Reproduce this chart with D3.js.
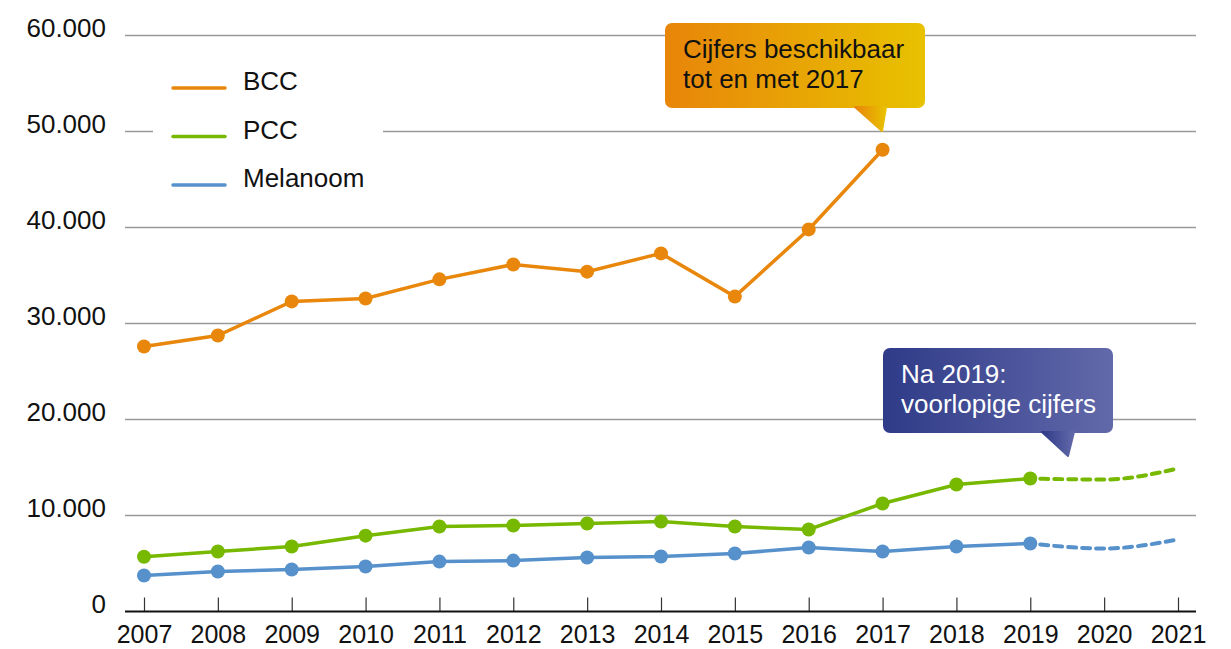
<!DOCTYPE html>
<html>
<head>
<meta charset="utf-8">
<script src="https://cdn.jsdelivr.net/npm/d3@7"></script>
<style>
  body { margin: 0; background: #fff; }
  svg { font-family: "Liberation Sans", Arial, sans-serif; }
</style>
</head>
<body>
<div id="chart"></div>
<script>
// Data
let years = [2007, 2008, 2009, 2010, 2011, 2012, 2013, 2014, 2015, 2016, 2017, 2018, 2019, 2020, 2021];
let bcc = [27600, 28750, 32300, 32600, 34600, 36150, 35400, 37300, 32800, 39800, 48100];
let pcc = [5700, 6250, 6770, 7900, 8850, 8960, 9170, 9375, 8850, 8540, 11250, 13230, 13850];
let pccForecast = [13850, 13750, 14900];
let mel = [3750, 4170, 4375, 4690, 5200, 5300, 5625, 5730, 6040, 6670, 6250, 6770, 7080];
let melForecast = [7080, 6560, 7500];
let yTicks = [0, 10000, 20000, 30000, 40000, 50000, 60000];
let legendNames = ["BCC", "PCC", "Melanoom"];

let w = 1231;
let h = 649;

let colors = {bcc: "#e8870b", pcc: "#77b800", mel: "#5691cb"};

let svg = d3.select("#chart")
    .append("svg")
    .attr("width", w)
    .attr("height", h);

let x = d3.scaleLinear().domain([2007, 2021]).range([144, 1178]);
let y = d3.scaleLinear().domain([0, 60000]).range([611.5, 35.5]);

let defs = svg.append("defs");
let g1 = defs.append("linearGradient").attr("id", "grad-orange")
    .attr("x1", "0%").attr("y1", "0%").attr("x2", "100%").attr("y2", "0%");
g1.append("stop").attr("offset", "0%").attr("stop-color", "#e8850a");
g1.append("stop").attr("offset", "100%").attr("stop-color", "#e8c200");
let g2 = defs.append("linearGradient").attr("id", "grad-blue")
    .attr("x1", "0%").attr("y1", "0%").attr("x2", "100%").attr("y2", "0%");
g2.append("stop").attr("offset", "0%").attr("stop-color", "#2f3b88");
g2.append("stop").attr("offset", "100%").attr("stop-color", "#6269aa");

// gridlines
svg.append("g")
    .selectAll("line")
    .data(yTicks.filter(d => d > 0))
    .join("line")
    .attr("x1", 125)
    .attr("x2", 1196)
    .attr("y1", d => y(d))
    .attr("y2", d => y(d))
    .attr("stroke", "#999")
    .attr("stroke-width", 1.5);

// y labels
svg.append("g")
    .selectAll("text")
    .data(yTicks)
    .join("text")
    .attr("x", 106)
    .attr("y", d => y(d) + 1.5)
    .attr("text-anchor", "end")
    .attr("font-size", 26)
    .attr("fill", "#111")
    .text(d => d3.format(",")(d).replace(/,/g, "."));

// x axis
let xAxis = d3.axisBottom(x)
    .tickValues(years)
    .tickFormat(d3.format("d"))
    .tickSize(-14)
    .tickPadding(14);

let ax = svg.append("g")
    .attr("transform", "translate(0," + y(0) + ")")
    .call(xAxis);
ax.select(".domain").remove();
ax.selectAll(".tick line").attr("stroke", "#333").attr("stroke-width", 1.2);
ax.selectAll(".tick text")
    .attr("font-size", 25)
    .attr("font-family", "Liberation Sans, Arial, sans-serif")
    .attr("fill", "#111");
svg.append("line")
    .attr("x1", 125).attr("x2", 1196)
    .attr("y1", y(0)).attr("y2", y(0))
    .attr("stroke", "#111")
    .attr("stroke-width", 2);

// legend
let legend = svg.append("g");
legend.append("rect")
    .attr("x", 153).attr("y", 60)
    .attr("width", 230).attr("height", 140)
    .attr("fill", "#fff");
let legendColors = [colors.bcc, colors.pcc, colors.mel];
legendNames.forEach((n, i) => {
    let ly = 88 + i * 48.5;
    legend.append("line")
        .attr("x1", 173).attr("x2", 225)
        .attr("y1", ly).attr("y2", ly)
        .attr("stroke", legendColors[i])
        .attr("stroke-width", 3.5)
        .attr("stroke-linecap", "round");
    legend.append("text")
        .attr("x", 243).attr("y", ly + 2)
        .attr("font-size", 26)
        .attr("fill", "#111")
        .text(n);
});

// series
let line = d3.line().x(d => x(d[0])).y(d => y(d[1]));
let curved = d3.line().x(d => x(d[0])).y(d => y(d[1])).curve(d3.curveMonotoneX);

function drawSeries(vals, color) {
    let pts = vals.map((v, i) => [years[i], v]);
    svg.append("path")
        .datum(pts)
        .attr("d", line)
        .attr("fill", "none")
        .attr("stroke", color)
        .attr("stroke-width", 3.5);
    svg.append("g")
        .selectAll("circle")
        .data(pts)
        .join("circle")
        .attr("cx", d => x(d[0]))
        .attr("cy", d => y(d[1]))
        .attr("r", 7)
        .attr("fill", color);
}

function drawForecast(vals, color) {
    let pts = vals.map((v, i) => [2019 + i, v]);
    svg.append("path")
        .datum(pts)
        .attr("d", curved)
        .attr("fill", "none")
        .attr("stroke", color)
        .attr("stroke-width", 4)
        .attr("stroke-dasharray", "8,6")
        .attr("stroke-linecap", "round")
        .attr("stroke-dashoffset", -10);
}

drawForecast(melForecast, colors.mel);
drawForecast(pccForecast, colors.pcc);
drawSeries(mel, colors.mel);
drawSeries(pcc, colors.pcc);
drawSeries(bcc, colors.bcc);

// callouts
function callout(bx, by, bw, bh, tail, fill, lines, textColor) {
    let g = svg.append("g");
    g.append("rect")
        .attr("x", bx).attr("y", by)
        .attr("width", bw).attr("height", bh)
        .attr("rx", 7)
        .attr("fill", fill);
    g.append("path")
        .attr("d", "M" + tail[0] + "," + (by + bh - 1) + " L" + tail[1] + "," + (by + bh - 1) +
            " L" + tail[2][0] + "," + tail[2][1] + " Z")
        .attr("fill", fill)
        .attr("stroke", fill)
        .attr("stroke-linejoin", "round")
        .attr("stroke-width", 2);
    lines.forEach((t, i) => {
        g.append("text")
            .attr("x", bx + 18)
            .attr("y", by + 35 + i * 30)
            .attr("font-size", 26)
            .attr("fill", textColor)
            .text(t);
    });
}

callout(665, 23, 260, 85, [855, 886, [882, 131]], "url(#grad-orange)",
    ["Cijfers beschikbaar", "tot en met 2017"], "#111");
callout(883, 348, 230, 85, [1042, 1074, [1068, 456]], "url(#grad-blue)",
    ["Na 2019:", "voorlopige cijfers"], "#fff");
</script>
</body>
</html>
